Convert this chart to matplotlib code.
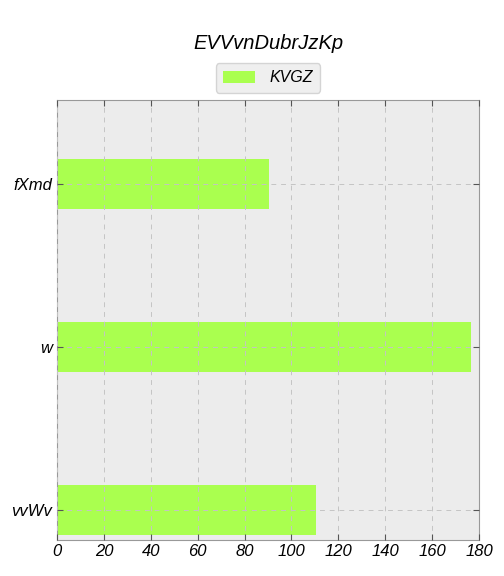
import matplotlib
matplotlib.use('Agg')
import matplotlib.pyplot as plt

# data
categories = ['vvWv', 'w', 'fXmd']
values = [110.5, 176.6, 90.5]
series_name = 'KVGZ'
title = 'EVVvnDubrJzKp'

plt.rcParams['font.style'] = 'italic'
plt.rcParams['font.family'] = ['Liberation Sans', 'DejaVu Sans']

fig = plt.figure(figsize=(5.04, 5.76), dpi=100)
ax = fig.add_axes([57 / 504, 36 / 576, 422 / 504, 440 / 576])
ax.set_facecolor('#ececec')

pos = range(len(categories))
ax.barh(pos, values, height=0.31, color='#aaff4f', label=series_name, zorder=2)

ax.set_xlim(0, 180)
ax.set_ylim(-0.184, 2.515)
ax.set_xticks(range(0, 181, 20))
ax.set_yticks(list(pos))
ax.set_yticklabels(categories)
ax.tick_params(axis='both', labelsize=12, direction='in', length=4, color='#555555',
               top=True, right=True)
ax.tick_params(axis='x', pad=3)
ax.set_axisbelow(False)
ax.grid(True, linestyle=(0, (5, 5)), color='#c4c4c4', linewidth=0.7)
for s in ax.spines.values():
    s.set_color('#999999')
    s.set_linewidth(0.8)

fig.text(0.532, 0.924, title, ha='center', va='center', fontsize=14.5)
ax.legend(loc='center', bbox_to_anchor=(0.5, 1.05), fontsize=11.5, frameon=True,
          facecolor='#ececec', edgecolor='#cccccc', handlelength=2.0,
          borderpad=0.45, handletextpad=0.9)

fig.savefig('out.png', dpi=100)
